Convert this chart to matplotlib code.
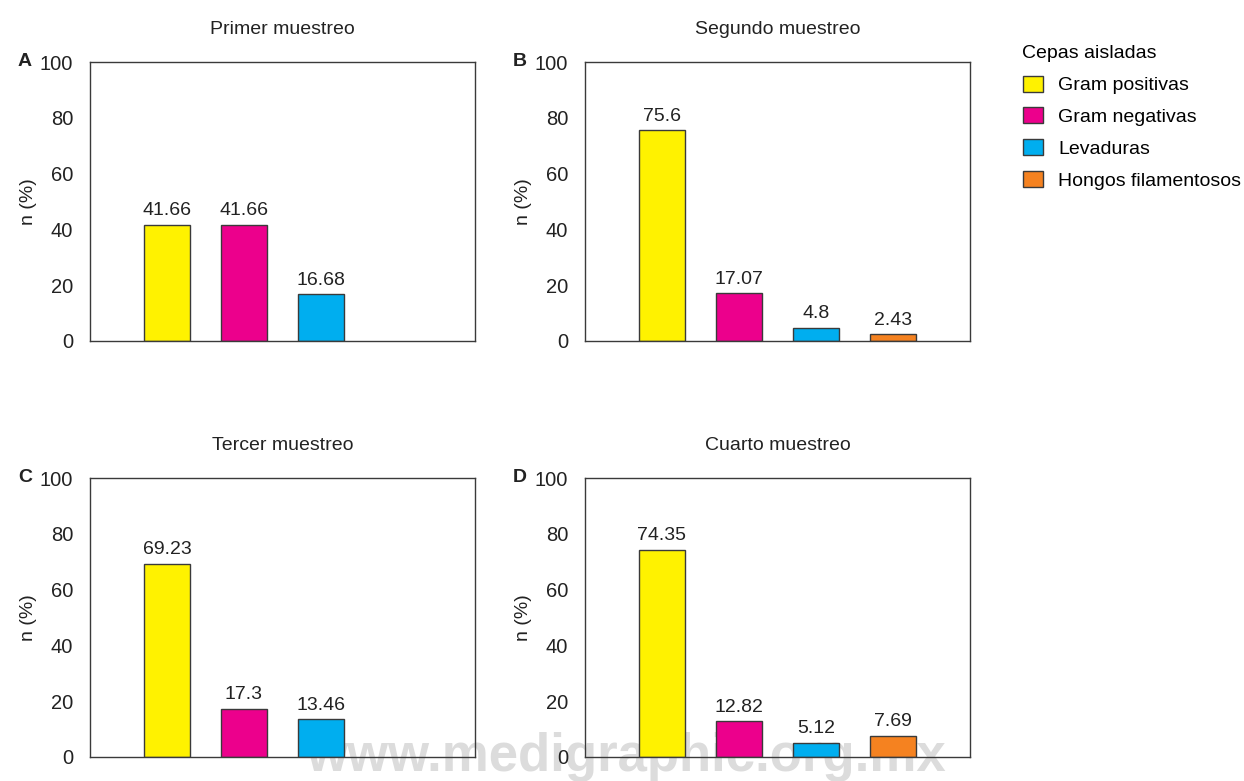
import numpy as np
import matplotlib
matplotlib.use("Agg")
import matplotlib.pyplot as plt
from matplotlib.patches import Patch

plt.rcParams["font.family"] = ["Liberation Sans", "DejaVu Sans"]

# Data
categories = ["Gram positivas", "Gram negativas", "Levaduras", "Hongos filamentosos"]
colors = ["#FFF200", "#EC008C", "#00AEEF", "#F58220"]
titles = ["Primer muestreo", "Segundo muestreo", "Tercer muestreo", "Cuarto muestreo"]
panel_letters = ["A", "B", "C", "D"]
primer = [41.66, 41.66, 16.68, None]
segundo = [75.6, 17.07, 4.8, 2.43]
tercer = [69.23, 17.3, 13.46, None]
cuarto = [74.35, 12.82, 5.12, 7.69]
yticks = [0, 20, 40, 60, 80, 100]

W, H = 1244, 781
fig = plt.figure(figsize=(W / 100, H / 100), dpi=100)

# axes boxes in pixels: left, top, right, bottom
boxes = [(90, 62, 475, 341), (585, 62, 970, 341),
         (90, 478, 475, 757), (585, 478, 970, 757)]

edge = "#3a3a3a"
for data, title, letter, (l, t, r, b) in zip(
        [primer, segundo, tercer, cuarto], titles, panel_letters, boxes):
    ax = fig.add_axes([l / W, 1 - b / H, (r - l) / W, (b - t) / H])
    ax.set_facecolor("none")
    x = np.arange(len(categories))
    for i, v in enumerate(data):
        if v is None:
            continue
        ax.bar(x[i], v, width=0.6, color=colors[i], edgecolor=edge, linewidth=1.0, zorder=2)
        ax.annotate(f"{v}", (x[i], v), xytext=(0, 4), textcoords="offset points",
                    ha="center", va="bottom", fontsize=14, color="#222222")
    ax.set_xlim(-1, 4)
    ax.set_ylim(0, 100)
    ax.set_xticks([])
    ax.set_yticks(yticks)
    ax.tick_params(axis="y", length=0, pad=12, labelsize=14.5, labelcolor="#222222")
    for s in ax.spines.values():
        s.set_color(edge)
        s.set_linewidth(1.0)
    ax.set_title(title, fontsize=14, pad=20, color="#222222")
    ax.set_ylabel("n (%)", fontsize=14, labelpad=2, color="#222222")
    fig.text((l - 72) / W, 1 - t / H, letter, fontsize=14, fontweight="bold",
             ha="left", va="center", color="#222222")

handles = [Patch(facecolor=c, edgecolor=edge, linewidth=1.0) for c in colors]
leg = fig.legend(handles, categories, title="Cepas aisladas", loc="upper left",
                 bbox_to_anchor=(1005 / W, 1 - 28 / H), frameon=False, fontsize=14,
                 title_fontsize=14, handlelength=1.05, handleheight=0.9,
                 handletextpad=0.8, labelspacing=0.67)
leg._legend_box.align = "left"

fig.text(626 / W, 1 - 757 / H, "www.medigraphic.org.mx", fontsize=38, fontweight="bold",
         color="#dcdcdc", ha="center", va="center", zorder=-1)

fig.savefig("out.png", dpi=100)
